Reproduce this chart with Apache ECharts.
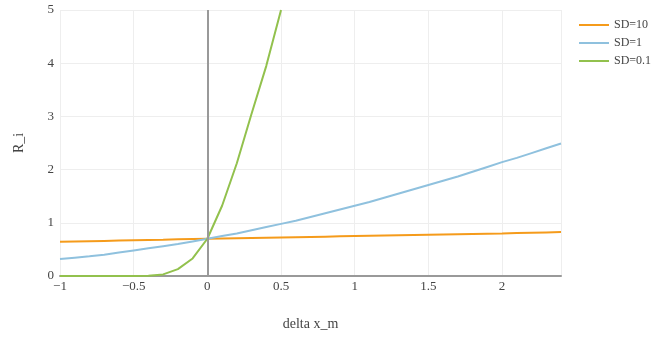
<!DOCTYPE html>
<html>
<head>
<meta charset="utf-8">
<script src="https://cdn.jsdelivr.net/npm/echarts@6/dist/echarts.min.js"></script>
<style>
  html, body { margin: 0; padding: 0; background: #fff; }
  #chart { width: 651px; height: 338px; }
</style>
</head>
<body>
<div id="chart"></div>
<script>
const xValues = [-1, -0.9, -0.8, -0.7, -0.6, -0.5, -0.4, -0.3, -0.2, -0.1, 0,
  0.1, 0.2, 0.3, 0.4, 0.5, 0.6, 0.7, 0.8, 0.9, 1, 1.1, 1.2, 1.3, 1.4, 1.5,
  1.6, 1.7, 1.8, 1.9, 2, 2.1, 2.2, 2.3, 2.4]

const sd10 = [0.645, 0.65, 0.655, 0.66, 0.665, 0.67, 0.675, 0.68, 0.69, 0.695, 0.70,
  0.705, 0.71, 0.715, 0.72, 0.725, 0.73, 0.735, 0.74, 0.745, 0.75, 0.755, 0.76, 0.765,
  0.77, 0.775, 0.78, 0.785, 0.79, 0.795, 0.80, 0.81, 0.815, 0.82, 0.825]

const sd1 = [0.32, 0.345, 0.37, 0.40, 0.44, 0.48, 0.52, 0.56, 0.60, 0.65, 0.70,
  0.75, 0.80, 0.86, 0.92, 0.98, 1.04, 1.11, 1.18, 1.25, 1.32, 1.39, 1.47, 1.55,
  1.63, 1.71, 1.79, 1.87, 1.96, 2.05, 2.14, 2.22, 2.31, 2.40, 2.49]

const sd01 = [0, 0, 0, 0, 0, 0.001, 0.006, 0.03, 0.13, 0.33, 0.70,
  1.32, 2.12, 3.05, 3.95, 5.0]

const seriesNames = ['SD=10', 'SD=1', 'SD=0.1']
const colors = ['#f59b1b', '#8fc1de', '#92c14d']
const xTicks = [-1, -0.5, 0, 0.5, 1, 1.5, 2]
const yTicks = [0, 1, 2, 3, 4, 5]

const font = 'Liberation Serif'

function pairs(ys) {
  return ys.map((y, i) => [xValues[i], y])
}

const chart = echarts.init(document.getElementById('chart'))

const option = {
  animation: false,
  textStyle: { fontFamily: font },
  grid: {
    left: 60,
    right: 90,
    top: 10,
    bottom: 62,
    outerBoundsMode: 'none'
  },
  legend: {
    orient: 'vertical',
    left: 574,
    top: 14,
    icon: 'rect',
    itemWidth: 30,
    itemHeight: 2,
    itemGap: 6,
    data: seriesNames,
    textStyle: { fontFamily: font, fontSize: 12, color: '#444' }
  },
  xAxis: {
    type: 'value',
    min: xTicks[0],
    max: 2.4,
    interval: 0.5,
    name: 'delta x_m',
    nameLocation: 'middle',
    nameGap: 41,
    nameTextStyle: { fontFamily: font, fontSize: 14, color: '#444' },
    axisLine: { show: true, onZero: false, lineStyle: { color: '#999', width: 2 } },
    axisTick: { show: false },
    axisLabel: {
      showMaxLabel: false,
      color: '#444',
      fontSize: 13,
      margin: 4,
      fontFamily: font,
      formatter: v => String(v).replace('-', '\u2212')
    },
    splitLine: { show: true, lineStyle: { color: '#eee', width: 1 } }
  },
  yAxis: {
    type: 'value',
    min: yTicks[0],
    max: yTicks[yTicks.length - 1],
    interval: 1,
    name: 'R_i',
    nameLocation: 'middle',
    nameGap: 34,
    nameTextStyle: { fontFamily: font, fontSize: 14, color: '#444' },
    axisLine: { show: false },
    axisTick: { show: false },
    axisLabel: { color: '#444', fontSize: 13, margin: 6, fontFamily: font },
    splitLine: { show: true, lineStyle: { color: '#eee', width: 1 } }
  },
  series: [
    {
      name: seriesNames[0],
      type: 'line',
      data: pairs(sd10),
      symbol: 'none',
      z: 3,
      lineStyle: { color: colors[0], width: 2 },
      itemStyle: { color: colors[0] },
      markLine: {
        silent: true,
        symbol: 'none',
        label: { show: false },
        lineStyle: { color: '#999', width: 2, type: 'solid' },
        data: [{ xAxis: 0 }]
      }
    },
    {
      name: seriesNames[1],
      type: 'line',
      data: pairs(sd1),
      symbol: 'none',
      z: 3,
      lineStyle: { color: colors[1], width: 2 },
      itemStyle: { color: colors[1] }
    },
    {
      name: seriesNames[2],
      type: 'line',
      data: pairs(sd01),
      symbol: 'none',
      z: 3,
      lineStyle: { color: colors[2], width: 2 },
      itemStyle: { color: colors[2] }
    }
  ]
}

chart.setOption(option)

window.addEventListener('resize', () => {
  chart.resize()
})
</script>
</body>
</html>
